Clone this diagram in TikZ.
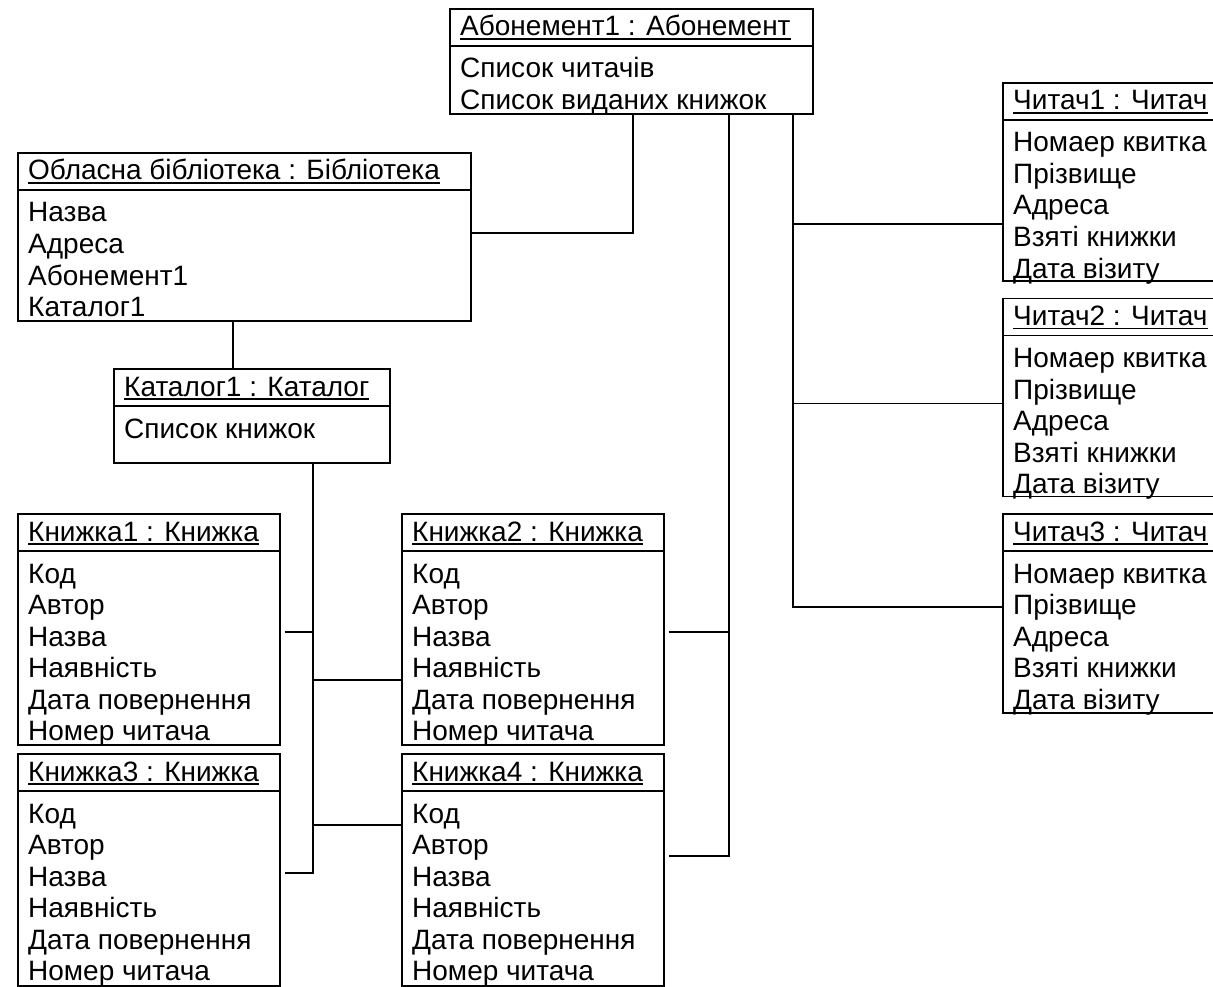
\documentclass[tikz,border=0pt]{standalone}
\usepackage{fontspec}
\setmainfont{Liberation Sans}
\usetikzlibrary{calc}

\tikzset{
  objframe/.style={draw, line width=1.6pt, anchor=north west, inner sep=0pt, fill=white},
  objline/.style={line width=1.6pt},
  objtext/.style={anchor=base west, inner sep=0pt, font=\fontsize{28}{30}\selectfont},
  uline/.style={line width=1.4pt},
  link/.style={line width=1.6pt}
}

% #1 name, #2 x, #3 y, #4 width, #5 height, #6 object title
\newcommand\umlobject[6]{%
  \node[objframe, minimum width=#4pt, minimum height=#5pt] (#1) at (#2,#3) {};
  \draw[objline] ($(#1.north west)+(0,38)$) -- ($(#1.north east)+(0,38)$);
  \node[objtext] (#1-head) at ($(#1.north west)+(11,28)$) {#6};
  \draw[uline] ([yshift=-3pt]#1-head.base west) -- ([yshift=-3pt]#1-head.base east);
}
% #1 name, #2 attribute list
\newcommand\umlrows[2]{%
  \foreach \r [count=\i] in {#2}
    \node[objtext] (#1-r\i) at ($(#1.north west)+(11,{70+31.5*(\i-1)})$) {\r};
}

\begin{document}
\begin{tikzpicture}[x=1pt, y=-1pt]
  \fill[white] (0,0) rectangle (1213,987);
  \useasboundingbox (0,0) rectangle (1213,987);
  \clip (0,0) rectangle (1213,987);

  % objects
  \umlobject{abon}{449}{8}{363}{105}{Абонемент1 : Абонемент}
  \umlrows{abon}{Список читачів, Список виданих книжок}

  \umlobject{lib}{17}{152}{453}{168}{Обласна бібліотека : Бібліотека}
  \umlrows{lib}{Назва, Адреса, Абонемент1, Каталог1}

  \umlobject{cat}{113}{368}{276}{94}{Каталог1 : Каталог}
  \umlrows{cat}{Список книжок}

  \umlobject{b1}{17}{513}{262}{231}{Книжка1 : Книжка}
  \umlrows{b1}{Код, Автор, Назва, Наявність, Дата повернення, Номер читача}
  \umlobject{b2}{401}{513}{262}{231}{Книжка2 : Книжка}
  \umlrows{b2}{Код, Автор, Назва, Наявність, Дата повернення, Номер читача}
  \umlobject{b3}{17}{753}{262}{232}{Книжка3 : Книжка}
  \umlrows{b3}{Код, Автор, Назва, Наявність, Дата повернення, Номер читача}
  \umlobject{b4}{401}{753}{262}{232}{Книжка4 : Книжка}
  \umlrows{b4}{Код, Автор, Назва, Наявність, Дата повернення, Номер читача}

  \umlobject{r1}{1002}{82}{240}{198}{Читач1 : Читач}
  \umlrows{r1}{Номаер квитка, Прізвище, Адреса, Взяті книжки, Дата візиту}
  \umlobject{r2}{1002}{297.5}{240}{198}{Читач2 : Читач}
  \umlrows{r2}{Номаер квитка, Прізвище, Адреса, Взяті книжки, Дата візиту}
  \umlobject{r3}{1002}{513}{240}{199}{Читач3 : Читач}
  \umlrows{r3}{Номаер квитка, Прізвище, Адреса, Взяті книжки, Дата візиту}

  % library -- subscription
  \draw[link] ([xshift=184pt]abon.south west) |- ([yshift=-81pt]lib.north east);

  % library -- catalogue
  \coordinate (libdown) at ([xshift=216pt]lib.south west);
  \draw[link] (libdown) -- (libdown |- cat.north);

  % catalogue -- books
  \coordinate (catbus) at ([xshift=200pt]cat.south west);
  \coordinate (b1c) at ([xshift=4pt,yshift=-119pt]b1.north east);
  \coordinate (b2c) at ([yshift=-167pt]b2.north west);
  \coordinate (b3c) at ([xshift=4pt,yshift=-120pt]b3.north east);
  \coordinate (b4c) at ([yshift=-72pt]b4.north west);
  \draw[link] (catbus) |- (b3c);
  \draw[link] (b1c) -- (b1c -| catbus);
  \draw[link] (catbus |- b2c) -- (b2c);
  \draw[link] (catbus |- b4c) -- (b4c);

  % subscription -- issued books
  \coordinate (abus) at ([xshift=280pt]abon.south west);
  \coordinate (b2r) at ([xshift=4pt,yshift=-119pt]b2.north east);
  \coordinate (b4r) at ([xshift=4pt,yshift=-103pt]b4.north east);
  \draw[link] (abus) |- (b4r);
  \draw[link] (b2r) -- (b2r -| abus);

  % subscription -- readers
  \coordinate (rbus) at ([xshift=344pt]abon.south west);
  \coordinate (r1c) at ([yshift=-142pt]r1.north west);
  \coordinate (r2c) at ([yshift=-106pt]r2.north west);
  \coordinate (r3c) at ([yshift=-94pt]r3.north west);
  \draw[link] (rbus) |- (r3c);
  \draw[link] (rbus |- r1c) -- (r1c);
  \draw[link] (rbus |- r2c) -- (r2c);
\end{tikzpicture}
\end{document}
